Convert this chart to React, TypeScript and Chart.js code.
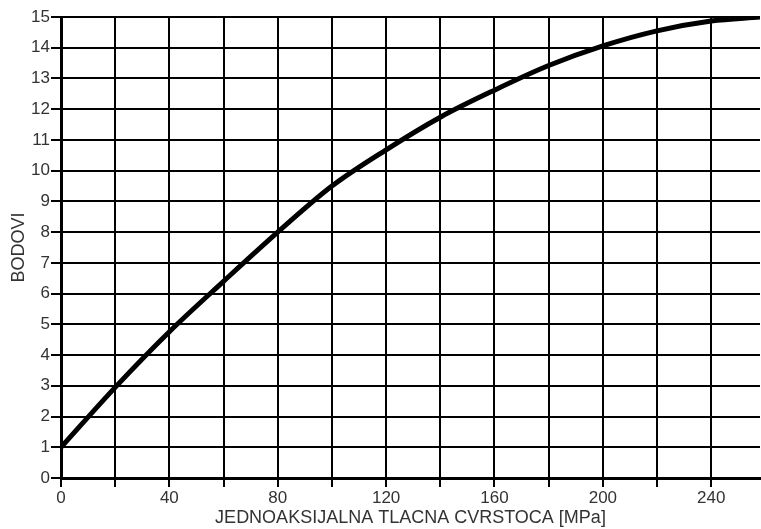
import React, { useEffect, useRef } from "react";
import { Chart, registerables } from "chart.js";

Chart.register(...registerables);

const xValues = [0, 20, 40, 60, 80, 100, 120, 140, 160, 180, 200, 220, 240, 258];
const yValues = [1, 2.95, 4.76, 6.4, 8.0, 9.5, 10.68, 11.74, 12.62, 13.42, 14.06, 14.55, 14.87, 15];
const xTitle = "JEDNOAKSIJALNA TLACNA CVRSTOCA [MPa]";
const yTitle = "BODOVI";

export default function App() {
  const ref = useRef<HTMLCanvasElement>(null);
  useEffect(() => {
    document.body.style.margin = "0";
    const ctx = ref.current!;
    const family = "'Liberation Sans', Arial, sans-serif";
    const tickFont = { family, size: 17 };
    const titleFont = { family, size: 18 };
    const chart = new Chart(ctx, {
      type: "line",
      data: {
        datasets: [
          {
            data: xValues.map((x, i) => ({ x, y: yValues[i] })),
            borderColor: "#000",
            borderWidth: 5,
            pointRadius: 0,
            cubicInterpolationMode: "monotone",
            fill: false,
          },
        ],
      },
      options: {
        animation: false,
        responsive: false,
        maintainAspectRatio: false,
        layout: { padding: { top: 17, right: 1, left: 0, bottom: 0 } },
        plugins: { legend: { display: false }, tooltip: { enabled: false } },
        scales: {
          x: {
            type: "linear",
            min: 0,
            max: 258,
            afterFit: (s: any) => {
              s.height = 51;
            },
            ticks: {
              stepSize: 20,
              includeBounds: false,
              autoSkip: false,
              maxRotation: 0,
              color: "#333",
              font: tickFont,
              padding: 1,
              callback: (v: any) => (Number(v) % 40 === 0 ? String(v) : ""),
            },
            grid: { color: "#000", lineWidth: 2, tickLength: 9 },
            border: { color: "#000", width: 3 },
            title: {
              display: true,
              text: xTitle,
              color: "#333",
              font: titleFont,
              padding: { top: 0, bottom: 0 },
            },
          },
          y: {
            type: "linear",
            min: 0,
            max: 15,
            afterFit: (s: any) => {
              s.width = 61;
            },
            ticks: { stepSize: 1, color: "#333", font: tickFont, padding: 1 },
            grid: { color: "#000", lineWidth: 2, tickLength: 10 },
            border: { color: "#000", width: 3 },
            title: {
              display: true,
              text: yTitle,
              color: "#333",
              font: titleFont,
              padding: { top: 8, bottom: 4 },
            },
          },
        },
      },
    });
    return () => chart.destroy();
  }, []);
  return (
    <div style={{ width: 761, height: 529, background: "#fff" }}>
      <canvas ref={ref} width={761} height={529} style={{ display: "block" }} />
    </div>
  );
}
